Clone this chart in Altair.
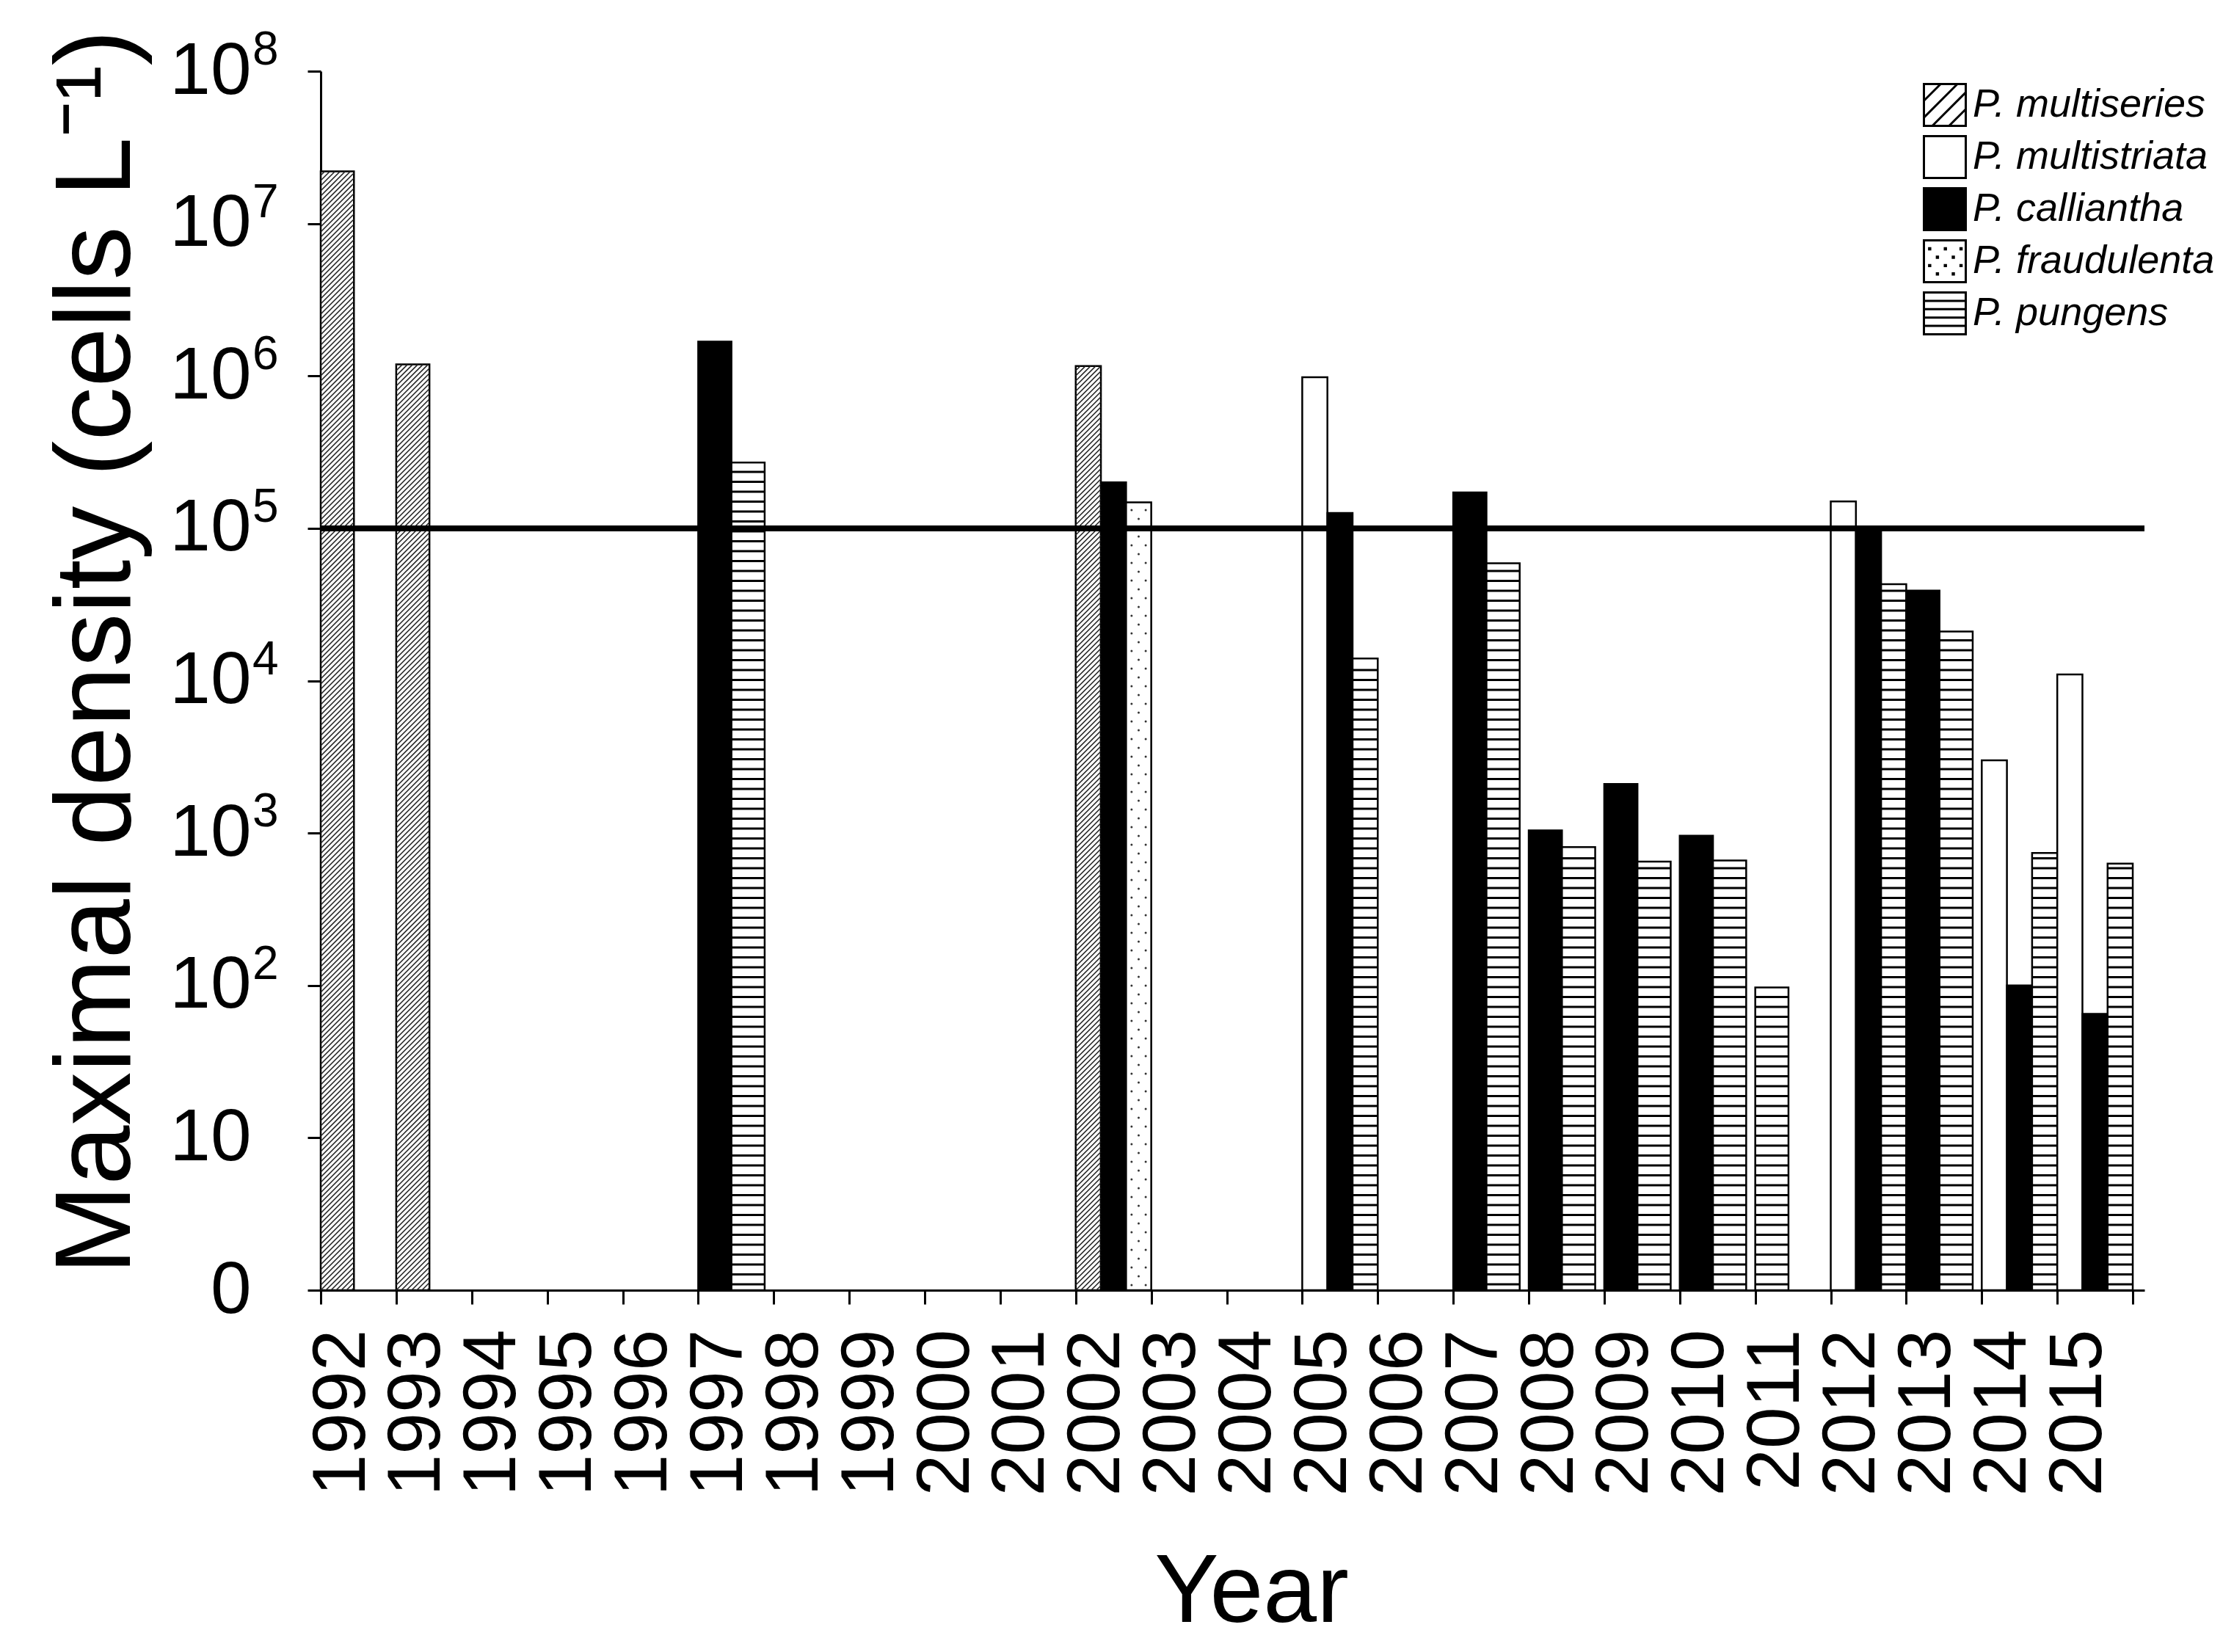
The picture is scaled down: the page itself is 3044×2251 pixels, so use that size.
import math
import pandas as pd
import altair as alt

# ---------------- data ----------------
years = list(range(1992, 2016))
series = ["P. multiseries", "P. multistriata", "P. calliantha", "P. fraudulenta", "P. pungens"]

#                 1992   1993    94 95 96   1997    98 99 00 01   2002    03 04   2005    06   2007    2008   2009   2010  2011   2012    2013    2014   2015
multiseries  = [2.2e7, 1.19e6, 0, 0, 0, 0,      0, 0, 0, 0, 1.16e6, 0, 0, 0,      0, 0,      0,     0,     0,    0,   0,      0,      0,     0]
multistriata = [0,     0,      0, 0, 0, 0,      0, 0, 0, 0, 0,      0, 0, 9.8e5,  0, 0,      0,     0,     0,    0,   1.5e5,  0,      3.0e3, 1.1e4]
calliantha   = [0,     0,      0, 0, 0, 1.68e6, 0, 0, 0, 0, 2.0e5,  0, 0, 1.26e5, 0, 1.72e5, 1.04e3, 2.1e3, 960,  0,   1.03e5, 3.9e4,  100,   65]
fraudulenta  = [0,     0,      0, 0, 0, 0,      0, 0, 0, 0, 1.48e5, 0, 0, 0,      0, 0,      0,     0,     0,    0,   0,      0,      0,     0]
pungens      = [0,     0,      0, 0, 0, 2.7e5,  0, 0, 0, 0, 0,      0, 0, 1.4e4,  0, 5.9e4,  810,   650,   660,  97,  4.3e4,  2.1e4,  740,   630]

threshold = [1e5]
y_ticks = [1, 10, 100, 1e3, 1e4, 1e5, 1e6, 1e7, 1e8]

values = {
    "P. multiseries": multiseries,
    "P. multistriata": multistriata,
    "P. calliantha": calliantha,
    "P. fraudulenta": fraudulenta,
    "P. pungens": pungens,
}
base_fill = {
    "P. multiseries": "white",
    "P. multistriata": "white",
    "P. calliantha": "black",
    "P. fraudulenta": "white",
    "P. pungens": "white",
}

# ---------------- layout constants ----------------
PLOT_W, PLOT_H = 2485, 1661
X_MIN, X_MAX = 1992, 2016.155
PX_YEAR = PLOT_W / (X_MAX - X_MIN)
PX_DEC = PLOT_H / 8.0

# bars: nonzero species of a year are placed side by side from the year's tick
rows = []
for i, yr in enumerate(years):
    present = [(s, values[s][i]) for s in series if values[s][i] > 0]
    n = len(present)
    w = 0.44 if n <= 2 else 1.0 / 3.0
    for k, (s, v) in enumerate(present):
        x0 = yr + k * w
        rows.append(dict(year=yr, series=s, value=v, x0=x0, x1=x0 + w, base=1, fillc=base_fill[s]))
bars = pd.DataFrame(rows)

# pattern helpers (derived from the bars)
stripes, hatch, dots = [], [], []
for r in rows:
    H = math.log10(r["value"]) * PX_DEC
    W = (r["x1"] - r["x0"]) * PX_YEAR
    if r["series"] == "P. pungens":
        h = 8.0
        while h < H - 4:
            stripes.append(dict(x0=r["x0"], x1=r["x1"], v=10 ** (h / PX_DEC)))
            h += 13.5
    elif r["series"] == "P. multiseries":
        step = 7.0
        h = -math.ceil(W / step) * step
        while h < H:
            a, b = h, h + W
            fs = 0.0 if a >= 0 else (-a) / W
            fe = 1.0 if b <= H else (H - a) / W
            if fe > fs + 0.01:
                hs, he = max(a, 0.0), min(b, H)
                hatch.append(dict(
                    hx0=r["x0"] + fs * (r["x1"] - r["x0"]),
                    hx1=r["x0"] + fe * (r["x1"] - r["x0"]),
                    hv0=10 ** (hs / PX_DEC), hv1=10 ** (he / PX_DEC)))
            h += step
    elif r["series"] == "P. fraudulenta":
        h, row = 7.0, 0
        while h < H - 4:
            for f in ([0.22, 0.78] if row % 2 == 0 else [0.5]):
                dots.append(dict(x=r["x0"] + f * (r["x1"] - r["x0"]), v=10 ** (h / PX_DEC)))
            h += 12.0
            row += 1

stripes = pd.DataFrame(stripes)
hatch = pd.DataFrame(hatch)
dots = pd.DataFrame(dots)
thr = pd.DataFrame({"thr": threshold})
sups = pd.DataFrame({"tv": [t for t in y_ticks if t >= 100]})
sups["sup"] = [str(int(round(math.log10(t)))) for t in sups["tv"]]

FONT = "Liberation Sans"

xs = alt.Scale(domain=[X_MIN, X_MAX], nice=False, zero=False)
ys = alt.Scale(type="log", domain=[1, 1e8], nice=False)

xaxis = alt.Axis(
    values=list(range(1992, 2017)),
    labelExpr="datum.value <= 2015 ? '' + datum.value : ''",
    labelAngle=270, labelAlign="right", labelBaseline="middle",
    labelFont=FONT, labelFontSize=102, labelColor="black", labelLimit=500,
    labelPadding=34, labelOffset=28, labelFlush=False, labelOverlap=False,
    tickSize=19, tickWidth=3, tickColor="black",
    domainWidth=3, domainColor="black", grid=False,
    titleFont=FONT, titleFontSize=131, titleFontWeight="normal", titleColor="black",
    titleX=1268, titleY=451, titleAlign="center", titleBaseline="alphabetic",
)
yaxis = alt.Axis(
    values=y_ticks,
    labelExpr="datum.value < 2 ? '0' : '10'",
    labelFont=FONT, labelFontSize=100, labelColor="black", labelLimit=500,
    labelPadding=77, labelFlush=False, labelOverlap=False,
    tickSize=18, tickWidth=3, tickColor="black",
    domainWidth=3, domainColor="black", grid=False,
    titleFont=FONT, titleFontSize=146, titleFontWeight="normal", titleColor="black",
    titleAngle=270, titleX=-261, titleY=791, titleAlign="center", titleBaseline="alphabetic",
)
XT = "Year"
YT = "Maximal density (cells L⁻¹)"

bar_layer = alt.Chart(bars).mark_bar(stroke="black", strokeWidth=2.5).encode(
    x=alt.X("x0:Q", scale=xs, axis=xaxis, title=XT),
    x2="x1:Q",
    y=alt.Y("value:Q", scale=ys, axis=yaxis, title=YT),
    y2="base:Q",
    fill=alt.Fill("fillc:N", scale=None),
)

hatch_layer = alt.Chart(hatch).mark_rule(color="#222222", strokeWidth=1.6).encode(
    x=alt.X("hx0:Q", scale=xs, axis=xaxis, title=XT),
    x2="hx1:Q",
    y=alt.Y("hv0:Q", scale=ys, axis=yaxis, title=YT),
    y2="hv1:Q",
)

stripe_layer = alt.Chart(stripes).mark_rule(color="black", strokeWidth=3).encode(
    x=alt.X("x0:Q", scale=xs, axis=xaxis, title=XT),
    x2="x1:Q",
    y=alt.Y("v:Q", scale=ys, axis=yaxis, title=YT),
)

dot_layer = alt.Chart(dots).mark_circle(color="#333333", size=9, opacity=1).encode(
    x=alt.X("x:Q", scale=xs, axis=xaxis, title=XT),
    y=alt.Y("v:Q", scale=ys, axis=yaxis, title=YT),
)

thr_layer = alt.Chart(thr).mark_rule(color="black", strokeWidth=8).encode(
    y=alt.Y("thr:Q", scale=ys, axis=yaxis, title=YT),
)

# exponent superscripts of the y tick labels (10^n)
sup_layer = alt.Chart(sups).mark_text(
    align="left", baseline="alphabetic", font=FONT, fontSize=64, color="black", dy=-9
).encode(
    x=alt.value(-93),
    y=alt.Y("tv:Q", scale=ys, axis=yaxis, title=YT),
    text="sup:N",
)

# legend (custom symbol paths imitate the bar patterns)
sq = "M-1,-1H1V1H-1Z"
paths = [
    sq + "M-1,-0.2L-0.2,-1M-1,0.6L0.6,-1M-0.6,1L1,-0.6M0.2,1L1,0.2",
    sq,
    sq,
    sq + "".join(
        f"M{x},{y}h0.05v0.05h-0.05Z"
        for y, xs_ in [(-0.62, [-0.75, 0.0, 0.75]), (-0.22, [-0.38, 0.38]),
                       (0.18, [-0.75, 0.0, 0.75]), (0.58, [-0.38, 0.38])]
        for x in xs_
    ),
    sq + "M-1,-0.6H1M-1,-0.2H1M-1,0.2H1M-1,0.6H1",
]
leg = alt.Legend(
    title=None, orient="none", legendX=2183, legendY=16, padding=0,
    symbolSize=3249, symbolStrokeColor="black", symbolStrokeWidth=3, symbolOpacity=1,
    labelFont=FONT, labelFontSize=54, labelFontStyle="italic", labelColor="black",
    labelOffset=8, rowPadding=1, labelLimit=700,
)
leg_df = pd.DataFrame({"series": series})
legend_layer = alt.Chart(leg_df).mark_point(filled=True, size=0).encode(
    x=alt.value(0), y=alt.value(0),
    fill=alt.Fill("series:N", scale=alt.Scale(domain=series, range=[base_fill[s] for s in series]), legend=leg),
    shape=alt.Shape("series:N", scale=alt.Scale(domain=series, range=paths), legend=leg),
)

chart = alt.layer(
    bar_layer, hatch_layer, stripe_layer, dot_layer, thr_layer, sup_layer, legend_layer
).properties(
    width=PLOT_W, height=PLOT_H,
    autosize=alt.AutoSizeParams(type="none"),
    padding={"left": 429, "top": 89, "right": 110, "bottom": 490},
    background="white",
).configure(font=FONT).configure_view(strokeWidth=0)

chart.save("out.html", embed_options={"renderer": "svg", "actions": False})
